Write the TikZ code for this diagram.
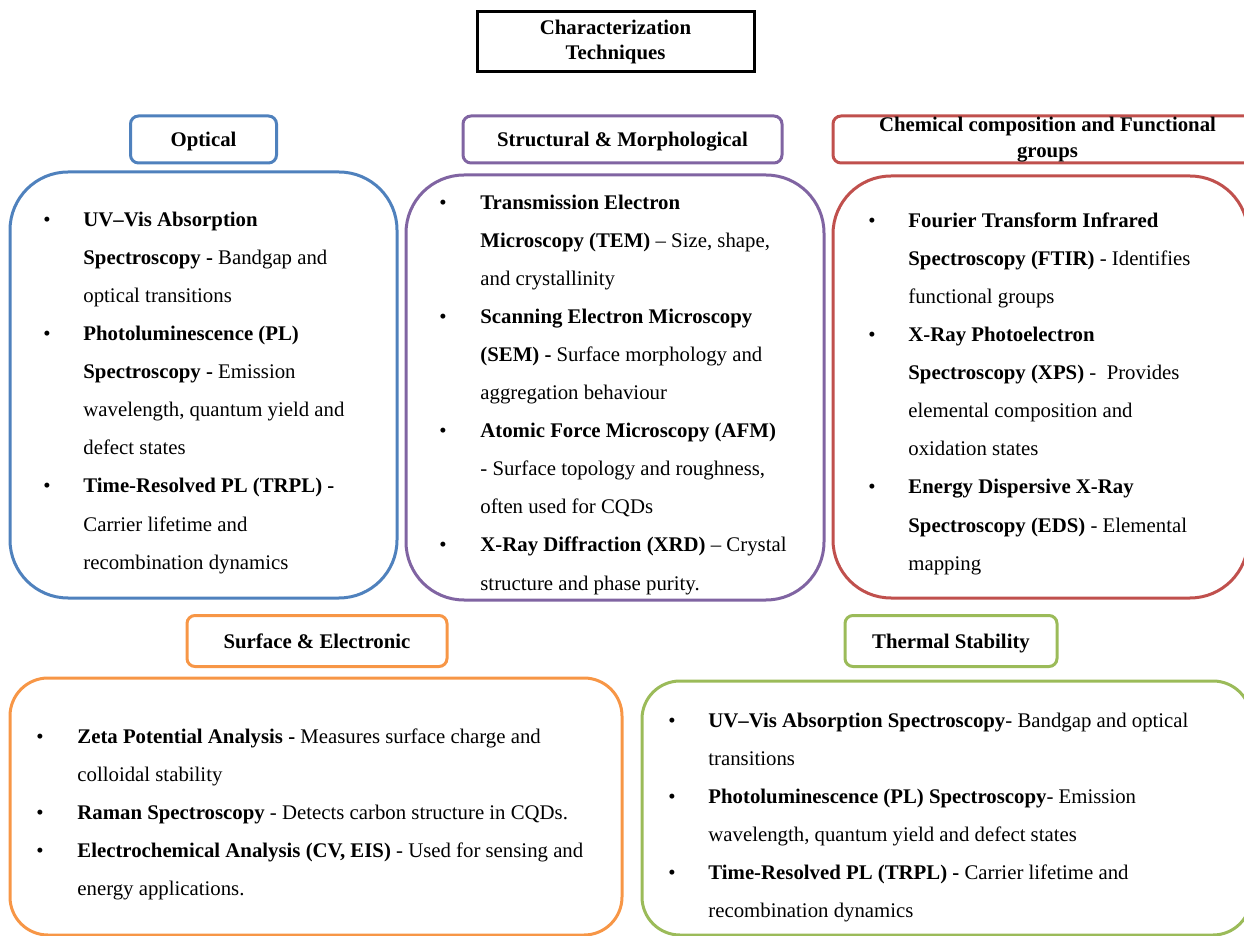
\documentclass[tikz,border=0pt]{standalone}
\usepackage{fontspec}
\setmainfont{Liberation Serif}

\definecolor{optblue}{HTML}{4F81BD}
\definecolor{strpurple}{HTML}{8064A2}
\definecolor{chemred}{HTML}{C0504D}
\definecolor{surforange}{HTML}{F79646}
\definecolor{thermgreen}{HTML}{9BBB59}

\tikzset{%
  title box/.style={
    draw,
    line width=1.5pt,
    minimum width=138.5pt,
    minimum height=30pt,
    align=center,
    font=\fontsize{10.4pt}{12.5pt}\selectfont\bfseries
  },
  head base/.style={
    draw,
    line width=1.5pt,
    rounded corners=4pt,
    minimum height=23.5pt,
    inner ysep=0pt,
    align=center,
    font=\fontsize{10.4pt}{13pt}\selectfont\bfseries
  },
  head/.style={
    head base,
    text height=7.5pt,
    text depth=0.5pt
  },
  body/.style={
    line width=1.5pt,
    rounded corners=29pt
  },
  body low/.style={
    line width=1.5pt,
    rounded corners=19pt
  },
  itemline/.style={
    anchor=base west,
    inner sep=0pt,
    font=\fontsize{10.4pt}{19pt}\selectfont
  },
  dot/.style={
    anchor=base,
    inner sep=0pt,
    font=\fontsize{10.4pt}{19pt}\selectfont
  },
}

\begin{document}
\begin{tikzpicture}[x=0.5pt,y=-0.5pt]
\clip (0,0) rectangle (1244,936);

% title
\node[title box] (title) at (615.5,42) {Characterization\\Techniques};

% headers
\node[head, draw=optblue, minimum width=73pt] (optical) at (203.5,139.5) {Optical};
\node[head, draw=strpurple, minimum width=159.5pt] (structural) at (622.5,139.5) {Structural \& Morphological};
\node[head base, draw=chemred, minimum width=214.5pt] (chemical) at (1047.5,139.5) {Chemical composition and Functional\\groups};
\node[head, draw=surforange, minimum width=130pt, minimum height=25.5pt] (surface) at (317,641) {Surface \& Electronic};
\node[head, draw=thermgreen, minimum width=106pt, minimum height=25.5pt] (thermal) at (951,641) {Thermal Stability};

% bodies
\draw[body, draw=optblue] (10,172) rectangle (397,598);
\draw[body, draw=strpurple] (406,175) rectangle (824,600);
\draw[body, draw=chemred] (833,176) rectangle (1248,598);
\draw[body low, draw=surforange] (10,678) rectangle (622,935);
\draw[body low, draw=thermgreen] (642,681) rectangle (1251,935);

% optical
\foreach \txt [count=\i from 0] in {
  {\textbf{UV--Vis Absorption}},
  {\textbf{Spectroscopy -} Bandgap and},
  {optical transitions},
  {\textbf{Photoluminescence (PL)}},
  {\textbf{Spectroscopy -} Emission},
  {wavelength, quantum yield and},
  {defect states},
  {\textbf{Time-Resolved PL (TRPL) -}},
  {Carrier lifetime and},
  {recombination dynamics}}
  \node[itemline] (optical-\i) at (83,227+38*\i) {\txt};
\foreach \l in {0,3,7}
  \node[dot] (optical-b\l) at (47,227+38*\l) {\textbullet};

% structural
\foreach \txt [count=\i from 0] in {
  {\textbf{Transmission Electron}},
  {\textbf{Microscopy (TEM)} -- Size, shape,},
  {and crystallinity},
  {\textbf{Scanning Electron Microscopy}},
  {\textbf{(SEM) -} Surface morphology and},
  {aggregation behaviour},
  {\textbf{Atomic Force Microscopy (AFM)}},
  {- Surface topology and roughness,},
  {often used for CQDs},
  {\textbf{X-Ray Diffraction (XRD)} -- Crystal},
  {structure and phase purity.}}
  \node[itemline] (structural-\i) at (480,210+38*\i) {\txt};
\foreach \l in {0,3,6,9}
  \node[dot] (structural-b\l) at (443,210+38*\l) {\textbullet};

% chemical
\foreach \txt [count=\i from 0] in {
  {\textbf{Fourier Transform Infrared}},
  {\textbf{Spectroscopy (FTIR)} - Identifies},
  {functional groups},
  {\textbf{X-Ray Photoelectron}},
  {\textbf{Spectroscopy (XPS)} -\ \ Provides},
  {elemental composition and},
  {oxidation states},
  {\textbf{Energy Dispersive X-Ray}},
  {\textbf{Spectroscopy (EDS)} - Elemental},
  {mapping}}
  \node[itemline] (chemical-\i) at (908,228+38*\i) {\txt};
\foreach \l in {0,3,7}
  \node[dot] (chemical-b\l) at (872,228+38*\l) {\textbullet};

% surface
\foreach \txt [count=\i from 0] in {
  {\textbf{Zeta Potential Analysis -} Measures surface charge and},
  {colloidal stability},
  {\textbf{Raman Spectroscopy} - Detects carbon structure in CQDs.},
  {\textbf{Electrochemical Analysis (CV, EIS)} - Used for sensing and},
  {energy applications.}}
  \node[itemline] (surface-\i) at (77,743+38*\i) {\txt};
\foreach \l in {0,2,3}
  \node[dot] (surface-b\l) at (40,743+38*\l) {\textbullet};

% thermal
\foreach \txt [count=\i from 0] in {
  {\textbf{UV--Vis Absorption Spectroscopy}- Bandgap and optical},
  {transitions},
  {\textbf{Photoluminescence (PL) Spectroscopy}- Emission},
  {wavelength, quantum yield and defect states},
  {\textbf{Time-Resolved PL (TRPL) -} Carrier lifetime and},
  {recombination dynamics}}
  \node[itemline] (thermal-\i) at (708,727+38*\i) {\txt};
\foreach \l in {0,2,4}
  \node[dot] (thermal-b\l) at (672,727+38*\l) {\textbullet};
\end{tikzpicture}
\end{document}
